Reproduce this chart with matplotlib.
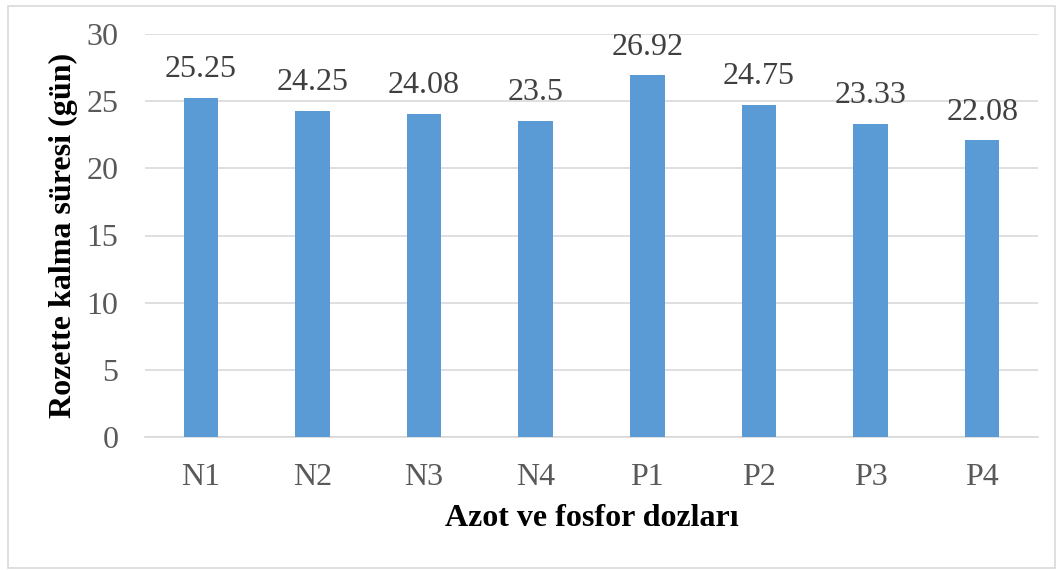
import matplotlib
matplotlib.use("Agg")
import matplotlib.pyplot as plt
from matplotlib.patches import Rectangle

categories = ["N1", "N2", "N3", "N4", "P1", "P2", "P3", "P4"]
values = [25.25, 24.25, 24.08, 23.5, 26.92, 24.75, 23.33, 22.08]
labels = ["25.25", "24.25", "24.08", "23.5", "26.92", "24.75", "23.33", "22.08"]
yticks = [0, 5, 10, 15, 20, 25, 30]

plt.rcParams['font.family'] = ['Liberation Serif', 'DejaVu Serif']

fig = plt.figure(figsize=(10.61, 5.70), dpi=100)
ax = fig.add_axes([145/1061, 1-437/570, (1038-145)/1061, (437-34)/570])

x = list(range(len(categories)))
ax.bar(x, values, width=0.31, color="#5b9bd5", zorder=3)
for xi, v, lab in zip(x, values, labels):
    ax.text(xi, v + 1.03, lab, ha="center", va="bottom", fontsize=23, color="#404040")

ax.set_xlim(-0.5, len(categories) - 0.5)
ax.set_ylim(0, 30)
ax.set_yticks(yticks)
ax.set_yticklabels([str(t) for t in yticks])
ax.set_xticks(x)
ax.set_xticklabels(categories)
ax.tick_params(axis="both", length=0, labelsize=23, colors="#595959")
ax.tick_params(axis="y", pad=19)
ax.tick_params(axis="x", pad=19)
ax.grid(axis="y", color="#d9d9d9", linewidth=1.2, zorder=0)
for s in ["top", "right", "left"]:
    ax.spines[s].set_visible(False)
ax.spines["bottom"].set_color("#d9d9d9")
ax.spines["bottom"].set_linewidth(1.2)

ax.set_ylabel("Rozette kalma süresi (gün)", fontsize=23, fontweight="bold", color="black", labelpad=6)
ax.set_xlabel("Azot ve fosfor dozları", fontsize=23, fontweight="bold", color="black", labelpad=8)

fig.patches.append(Rectangle((8/1061, 2/570), (1055-8)/1061, (566-4)/570, transform=fig.transFigure,
                             fill=False, edgecolor="#d9d9d9", linewidth=1.2))

fig.savefig("out.png", dpi=100)
